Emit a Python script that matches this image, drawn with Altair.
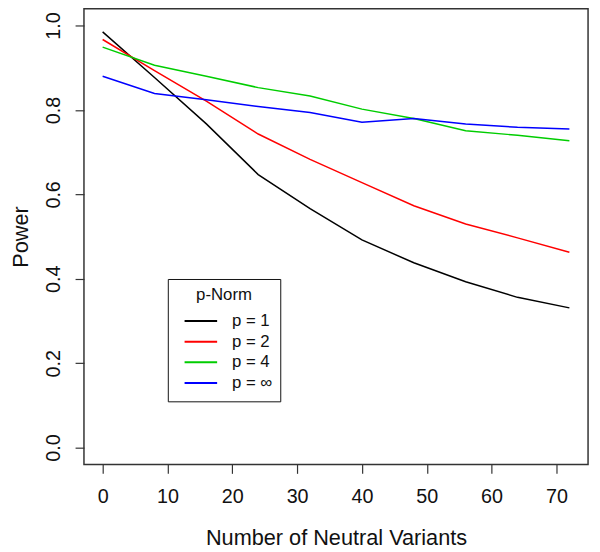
import altair as alt
import pandas as pd

neutral = [0, 8, 16, 24, 32, 40, 48, 56, 64, 72]
p1 = [0.985, 0.877, 0.767, 0.647, 0.566, 0.492, 0.438, 0.393, 0.356, 0.331]
p2 = [0.967, 0.893, 0.821, 0.743, 0.683, 0.628, 0.573, 0.530, 0.497, 0.463]
p4 = [0.949, 0.906, 0.880, 0.853, 0.833, 0.802, 0.780, 0.751, 0.740, 0.727]
pinf = [0.880, 0.839, 0.824, 0.808, 0.794, 0.771, 0.780, 0.767, 0.759, 0.755]

series_names = ["p = 1", "p = 2", "p = 4", "p = \u221e"]
series_colors = ["#000000", "#ff0000", "#00cd00", "#0000ff"]

rows = []
for name, vals in zip(series_names, [p1, p2, p4, pinf]):
    for xv, yv in zip(neutral, vals):
        rows.append({"n": xv, "power": yv, "series": name})
df = pd.DataFrame(rows)

FONT = "Liberation Sans"

chart = (
    alt.Chart(df)
    .mark_line(strokeWidth=1.5)
    .encode(
        x=alt.X(
            "n:Q",
            scale=alt.Scale(domain=[-2.88, 74.88], nice=False, zero=False),
            axis=alt.Axis(
                title="Number of Neutral Variants",
                values=[0, 10, 20, 30, 40, 50, 60, 70],
                format="d",
                grid=False,
                domain=False,
                tickSize=9,
                tickColor="#333333",
                tickWidth=1.2,
                labelFontSize=20,
                labelFont=FONT,
                labelColor="#111111",
                labelPadding=14,
                titleFontSize=22,
                titleFont=FONT,
                titleFontWeight="normal",
                titleColor="#111111",
                titlePadding=21,
            ),
        ),
        y=alt.Y(
            "power:Q",
            scale=alt.Scale(domain=[-0.04, 1.04], nice=False, zero=False),
            axis=alt.Axis(
                title="Power",
                values=[0, 0.2, 0.4, 0.6, 0.8, 1.0],
                format=".1f",
                grid=False,
                domain=False,
                tickSize=9,
                tickColor="#333333",
                tickWidth=1.2,
                labelAngle=-90,
                labelAlign="center",
                labelBaseline="bottom",
                labelFontSize=20,
                labelFont=FONT,
                labelColor="#111111",
                labelPadding=12,
                titleFontSize=22,
                titleFont=FONT,
                titleFontWeight="normal",
                titleColor="#111111",
                titlePadding=11,
            ),
        ),
        color=alt.Color(
            "series:N",
            scale=alt.Scale(domain=series_names, range=series_colors),
            sort=series_names,
            legend=alt.Legend(
                title="p-Norm",
                orient="none",
                legendX=85,
                legendY=274,
                symbolType="stroke",
                symbolSize=1089,
                symbolStrokeWidth=2,
                symbolOffset=8,
                clipHeight=21,
                labelOffset=14,
                labelFontSize=17,
                labelFont=FONT,
                labelColor="#111111",
                titleFontSize=17,
                titleFont=FONT,
                titleFontWeight="normal",
                titleColor="#111111",
                titleAnchor="middle",
                titlePadding=7,
                padding=8,
                rowPadding=0,
                strokeColor="#111111",
                fillColor="white",
            ),
        ),
    )
    .properties(
        width=511,
        height=462,
        autosize=alt.AutoSizeParams(type="none"),
        padding={"left": 77, "top": -3, "right": 4, "bottom": 83},
    )
    .configure_view(stroke="#333333", strokeWidth=1.5)
)

chart.save("out.html", embed_options={"renderer": "svg", "actions": False})
